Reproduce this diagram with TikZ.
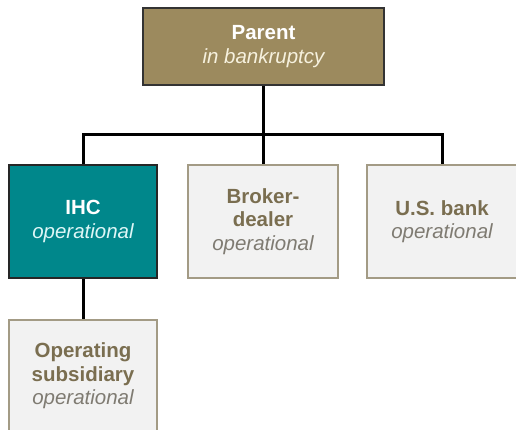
\documentclass[tikz,border=0pt]{standalone}
\usepackage{fontspec}
\setmainfont{Liberation Sans}
\definecolor{tan}{HTML}{9C8A5E}
\definecolor{teal}{HTML}{00878B}
\definecolor{boxgray}{HTML}{F2F2F2}
\definecolor{boxedge}{HTML}{A39B85}
\definecolor{boldtxt}{HTML}{7A6E50}
\definecolor{itxt}{HTML}{7F7B72}
\definecolor{cream}{HTML}{F6F1DE}
\definecolor{lightcyan}{HTML}{DDF6F6}
\begin{document}
\begin{tikzpicture}[x=1pt,y=-1pt,
  every node/.style={font=\fontsize{20.5}{23.5}\selectfont, align=center, inner sep=0pt},
  parentbox/.style={draw=black!80, line width=1.6pt, fill=tan, text=white, minimum width=241pt, minimum height=77pt},
  ihcbox/.style={draw=black!85, line width=1.6pt, fill=teal, text=white, minimum width=148pt, minimum height=113pt},
  graybox/.style={draw=boxedge, line width=1.4pt, fill=boxgray, text=boldtxt, minimum width=150pt, minimum height=113pt},
  conn/.style={draw=black, line width=3pt}]
\useasboundingbox (0,0) rectangle (516,430);
\coordinate (bus) at (263,135);
\node[parentbox] (parent) at (263.5,46.5) {\textbf{Parent}\\\textcolor{cream}{\itshape in bankruptcy}};
\node[ihcbox] (ihc) at (83,221.5) {\textbf{IHC}\\\textcolor{lightcyan}{\itshape operational}};
\node[graybox] (broker) at (263,221.5) {\textbf{Broker-}\\\textbf{dealer}\\\textcolor{itxt}{\itshape operational}};
\node[graybox] (bank) at (442,221.5) {\textbf{U.S. bank}\\\textcolor{itxt}{\itshape operational}};
\node[graybox, minimum width=148pt, minimum height=112pt] (opsub) at (83,376) {\textbf{Operating}\\\textbf{subsidiary}\\\textcolor{itxt}{\itshape operational}};
\draw[conn] (parent.south) -- (parent.south |- bus);
\draw[conn] (ihc.north) |- (bus) -| (bank.north);
\draw[conn] (bus) -- (broker.north);
\draw[conn] (ihc.south) -- (opsub.north);
\end{tikzpicture}
\end{document}
